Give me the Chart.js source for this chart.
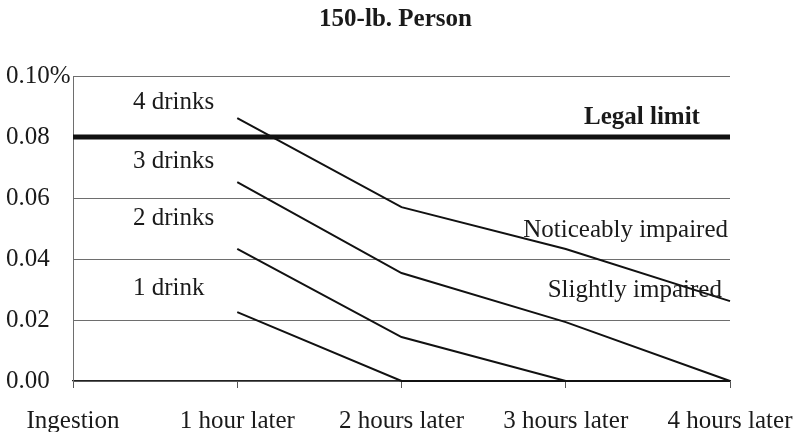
<!DOCTYPE html>
<html>
<head>
<meta charset="utf-8">
<script src="https://cdn.jsdelivr.net/npm/chart.js@4/dist/chart.umd.min.js"></script>
<style>
  html, body { margin: 0; padding: 0; background: #ffffff; }
  #wrap { width: 799px; height: 432px; position: relative; }
</style>
</head>
<body>
<div id="wrap"><canvas id="c" width="799" height="432"></canvas></div>
<script>
// ---- data ----
const categories = ["Ingestion", "1 hour later", "2 hours later", "3 hours later", "4 hours later"];
const oneDrink    = [null, 0.0226, 0.0, 0.0, 0.0];
const twoDrinks   = [null, 0.0433, 0.0144, 0.0, 0.0];
const threeDrinks = [null, 0.0652, 0.0354, 0.0193, 0.0];
const fourDrinks  = [null, 0.0862, 0.0570, 0.0433, 0.0262];
const legalLimit  = [0.08, 0.08, 0.08, 0.08, 0.08];
const yTickLabels = ["0.00", "0.02", "0.04", "0.06", "0.08", "0.10%"];
const chartTitle  = "150-lb. Person";

// text annotations, anchored in data space (category index, value)
const annotations = [
  { text: "4 drinks", xi: 0.365, y: 0.0892, align: "left" },
  { text: "3 drinks", xi: 0.365, y: 0.0698, align: "left" },
  { text: "2 drinks", xi: 0.365, y: 0.0511, align: "left" },
  { text: "1 drink",  xi: 0.365, y: 0.0282, align: "left" },
  { text: "Legal limit", xi: 3.817, y: 0.0843, align: "right", bold: true },
  { text: "Noticeably impaired", xi: 3.988, y: 0.0472, align: "right" },
  { text: "Slightly impaired", xi: 3.951, y: 0.0275, align: "right" }
];

const FONT = "'Liberation Serif', 'Times New Roman', serif";

const textPlugin = {
  id: 'textLabels',
  afterDatasetsDraw(chart) {
    const ctx = chart.ctx;
    const xs = chart.scales.x, ys = chart.scales.y;
    ctx.save();
    ctx.fillStyle = '#1a1a1a';
    ctx.textBaseline = 'alphabetic';
    annotations.forEach(a => {
      ctx.font = (a.bold ? 'bold ' : '') + '25px ' + FONT;
      ctx.textAlign = a.align;
      ctx.fillText(a.text, xs.getPixelForValue(a.xi), ys.getPixelForValue(a.y));
    });
    ctx.restore();
  }
};

function lineDs(label, data, width) {
  return {
    label, data,
    borderColor: '#111111',
    backgroundColor: '#111111',
    borderWidth: width,
    pointRadius: 0,
    pointHoverRadius: 0,
    tension: 0,
    spanGaps: false,
    clip: 6,
    fill: false
  };
}

new Chart(document.getElementById('c'), {
  type: 'line',
  data: {
    labels: categories,
    datasets: [
      lineDs('Legal limit', legalLimit, 5),
      lineDs('1 drink', oneDrink, 2),
      lineDs('2 drinks', twoDrinks, 2),
      lineDs('3 drinks', threeDrinks, 2),
      lineDs('4 drinks', fourDrinks, 2)
    ]
  },
  options: {
    responsive: false,
    animation: false,
    events: [],
    layout: { padding: { left: 6, right: 14, top: 0, bottom: 0 } },
    plugins: {
      legend: { display: false },
      tooltip: { enabled: false },
      title: {
        display: true,
        text: chartTitle,
        color: '#1a1a1a',
        font: { family: FONT, size: 25, weight: 'bold', lineHeight: 1.2 },
        padding: { top: 4.5, bottom: 41.5 }
      }
    },
    scales: {
      x: {
        type: 'category',
        offset: false,
        grid: {
          display: true,
          drawOnChartArea: false,
          drawTicks: true,
          tickLength: 7,
          color: '#555555',
          lineWidth: 1
        },
        border: { display: true, color: '#222222', width: 1.3 },
        ticks: {
          color: '#1a1a1a',
          font: { family: FONT, size: 25, lineHeight: 1.2 },
          padding: 18,
          maxRotation: 0,
          autoSkip: false
        },
        afterFit(scale) {
          scale.height = 51;
          scale.paddingLeft = 0;
          scale.paddingRight = 69;
        }
      },
      y: {
        min: 0,
        max: 0.10,
        grid: {
          display: true,
          drawTicks: false,
          color: '#6e6e6e',
          lineWidth: 1
        },
        border: { display: true, color: '#6e6e6e', width: 1 },
        ticks: {
          stepSize: 0.02,
          crossAlign: 'far',
          padding: 4,
          color: '#1a1a1a',
          font: { family: FONT, size: 25, lineHeight: 1.2 },
          callback: (v, i) => yTickLabels[i]
        },
        afterFit(scale) { scale.width = 67; }
      }
    }
  },
  plugins: [textPlugin]
});
</script>
</body>
</html>
